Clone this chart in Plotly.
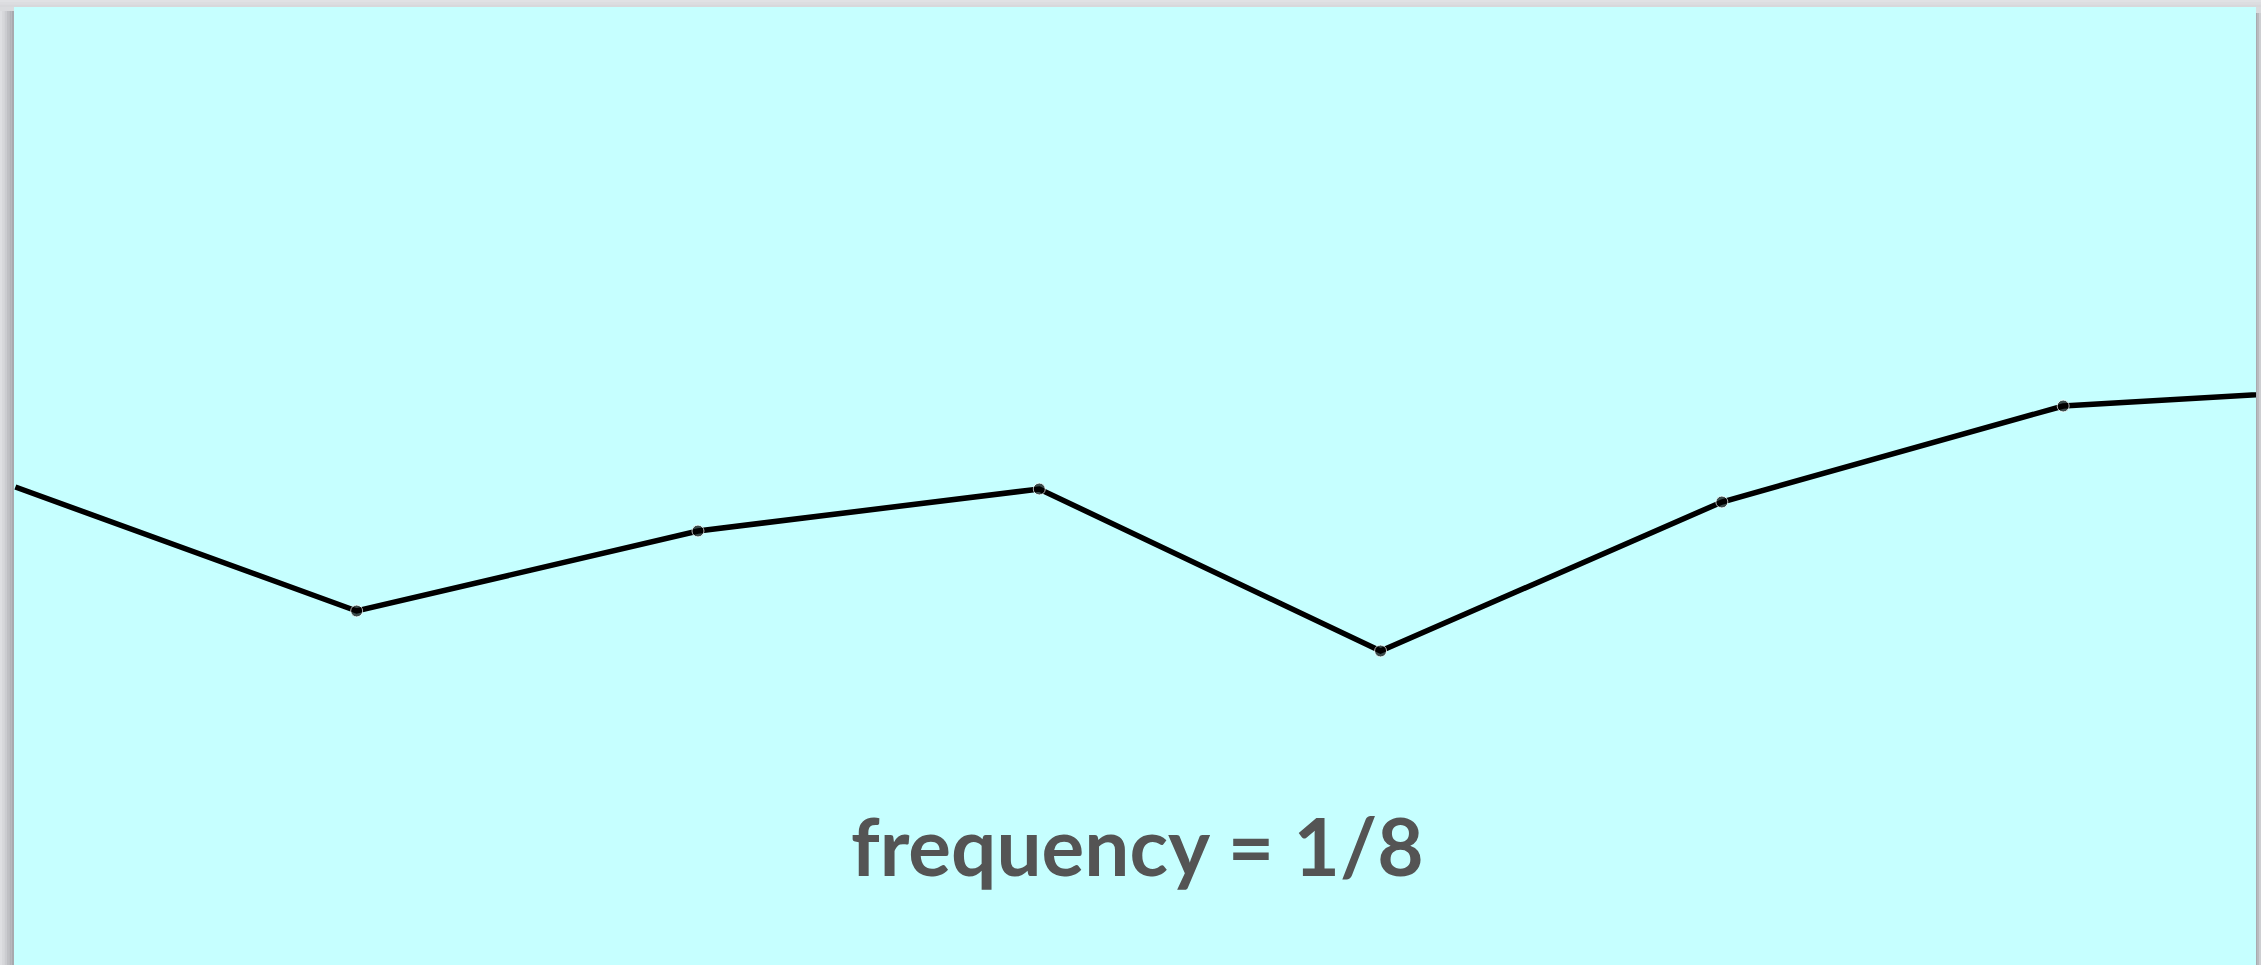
import plotly.graph_objects as go

# Data (sample index vs. signal value, arbitrary units)
sample_index = [0, 1, 2, 3, 4, 5, 6, 7]
signal_value = [4.78, 3.54, 4.34, 4.76, 3.14, 4.63, 5.59, 5.79]
caption = "frequency = 1/8"

W, H = 2261, 965
L, R, T, B = 14, 5, 7, 0

# the first sample sits exactly on the slide edge, where its dot is not visible
marker_sizes = [0] + [12] * (len(sample_index) - 1)

fig = go.Figure()
fig.add_trace(go.Scatter(
    x=sample_index, y=signal_value, mode="lines+markers",
    line=dict(color="#000000", width=5.5),
    marker=dict(color="#000000", size=marker_sizes),
    hoverinfo="skip", showlegend=False,
))

# soft drop-shadow around the slide panel (paper coordinates)
pw = W - L - R
ph = H - T - B
shapes = []
left_cols = ["#dedfe2", "#d6d7da", "#cbccd0", "#bfc0c4", "#b2b3b8", "#a8a9ae"]
n = len(left_cols)
for i, c in enumerate(left_cols):
    x0 = -L / pw + i * (L / pw) / n
    x1 = -L / pw + (i + 1) * (L / pw) / n
    shapes.append(dict(type="rect", xref="paper", yref="paper", x0=x0, x1=x1,
                       y0=0, y1=1 - 4 / ph, fillcolor=c, line_width=0, layer="below"))
top_cols = ["#e0e1e4", "#dcdde0", "#d7d8db"]
for i, c in enumerate(top_cols):
    y0 = 1 + (T - (i + 1) * T / 3) / ph
    y1 = 1 + (T - i * T / 3) / ph
    shapes.append(dict(type="rect", xref="paper", yref="paper", x0=-L / pw, x1=1 + R / pw,
                       y0=y0, y1=y1, fillcolor=c, line_width=0, layer="below"))
right_cols = ["#a9aaaf", "#b9babe", "#cdced1"]
for i, c in enumerate(right_cols):
    x0 = 1 + i * (R / pw) / 3
    x1 = 1 + (i + 1) * (R / pw) / 3
    shapes.append(dict(type="rect", xref="paper", yref="paper", x0=x0, x1=x1,
                       y0=0, y1=1 - 6 / ph, fillcolor=c, line_width=0, layer="below"))

fig.update_layout(
    width=W, height=H,
    margin=dict(l=L, r=R, t=T, b=B, pad=0),
    paper_bgcolor="#dadbde",
    plot_bgcolor="#c6ffff",
    shapes=shapes,
    xaxis=dict(range=[-0.004, 6.565], visible=False, showgrid=False, zeroline=False, fixedrange=True),
    yaxis=dict(range=[0, 9.58], visible=False, showgrid=False, zeroline=False, fixedrange=True),
    annotations=[dict(
        text="<b>" + caption + "</b>", xref="paper", yref="paper",
        x=(1137.5 - L) / pw, y=(H - 875) / ph, xanchor="center", yanchor="bottom",
        yshift=-20, showarrow=False,
        font=dict(family="Lato, 'Open Sans', sans-serif", size=80, color="#545454"),
    )],
)

fig.write_html(
    "out.html",
    config={"displayModeBar": False},
    post_script="document.body.style.margin='0';document.body.style.overflow='hidden';",
)
